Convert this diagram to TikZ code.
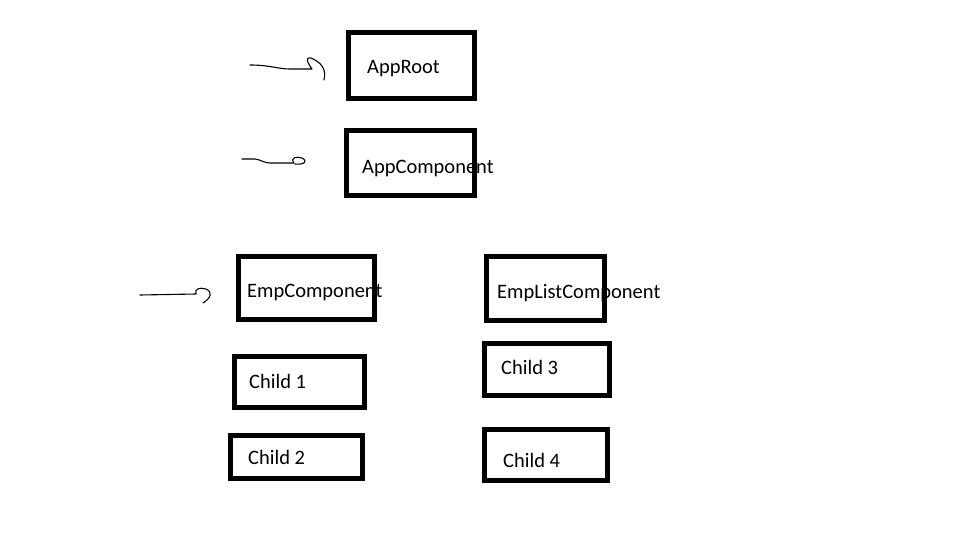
\documentclass[tikz,border=0pt]{standalone}
\usepackage{fontspec}
\setmainfont{Carlito}
\usetikzlibrary{positioning}

\tikzset{
  box/.style={draw, line width=4.6pt, inner sep=0pt},
  lbl/.style={anchor=base west, inner sep=0pt, font=\fontsize{20.5}{24}\selectfont},
  scrawl/.style={line width=1.1pt, line cap=round, line join=round}
}

\begin{document}
\begin{tikzpicture}[x=1pt, y=-1pt]
    \useasboundingbox (0,0) rectangle (962,535);

    % boxes
    \node[box, minimum width=126pt, minimum height=66pt] (AppRoot) at (411.5,65.5) {};
    \node[box, minimum width=128pt, minimum height=65pt] (AppComp) at (410.5,163) {};
    \node[box, minimum width=136pt, minimum height=63pt] (EmpComp) at (306.5,288) {};
    \node[box, minimum width=118pt, minimum height=64pt] (EmpList) at (545.5,288.5) {};
    \node[box, minimum width=130pt, minimum height=51pt] (Child1) at (299.5,382) {};
    \node[box, minimum width=132pt, minimum height=43pt] (Child2) at (296.5,457) {};
    \node[box, minimum width=125pt, minimum height=52pt] (Child3) at (547,369.5) {};
    \node[box, minimum width=123pt, minimum height=51pt] (Child4) at (546,455) {};

    % labels (they run past the box edges)
    \node[lbl] (AppRootTxt) at (367,74) {AppRoot};
    \node[lbl] (AppCompTxt) at (362,173) {AppComponent};
    \node[lbl] (EmpCompTxt) at (247,297) {EmpComponent};
    \node[lbl] (EmpListTxt) at (497,298) {EmpListComponent};
    \node[lbl] (Child1Txt) at (249,388) {Child 1};
    \node[lbl] (Child2Txt) at (248,464) {Child 2};
    \node[lbl] (Child3Txt) at (501,374) {Child 3};
    \node[lbl] (Child4Txt) at (503,467) {Child 4};

    % hand drawn pointers
    \coordinate (p1) at (250,65);
    \coordinate (h1) at (312,69);
    \draw[scrawl] (p1) .. controls (270,65) and (278,69) .. (290,69) -- (h1)
        .. controls (307,62) and (305,57) .. (311,58)
        .. controls (320,62) and (327,68) .. (324,80);
    \coordinate (p2) at (242,159);
    \coordinate (h2) at (294,163);
    \draw[scrawl] (p2) -- (255,159) .. controls (262,160) and (264,163) .. (270,163) -- (h2)
        .. controls (290,158) and (296,156) .. (302,158)
        .. controls (308,161) and (305,165) .. (295,164);
    \coordinate (p3) at (140,295);
    \coordinate (h3) at (196,294);
    \draw[scrawl] (p3) -- (h3)
        .. controls (194,289) and (200,287) .. (206,289)
        .. controls (213,292) and (211,298) .. (203,303);
\end{tikzpicture}
\end{document}
